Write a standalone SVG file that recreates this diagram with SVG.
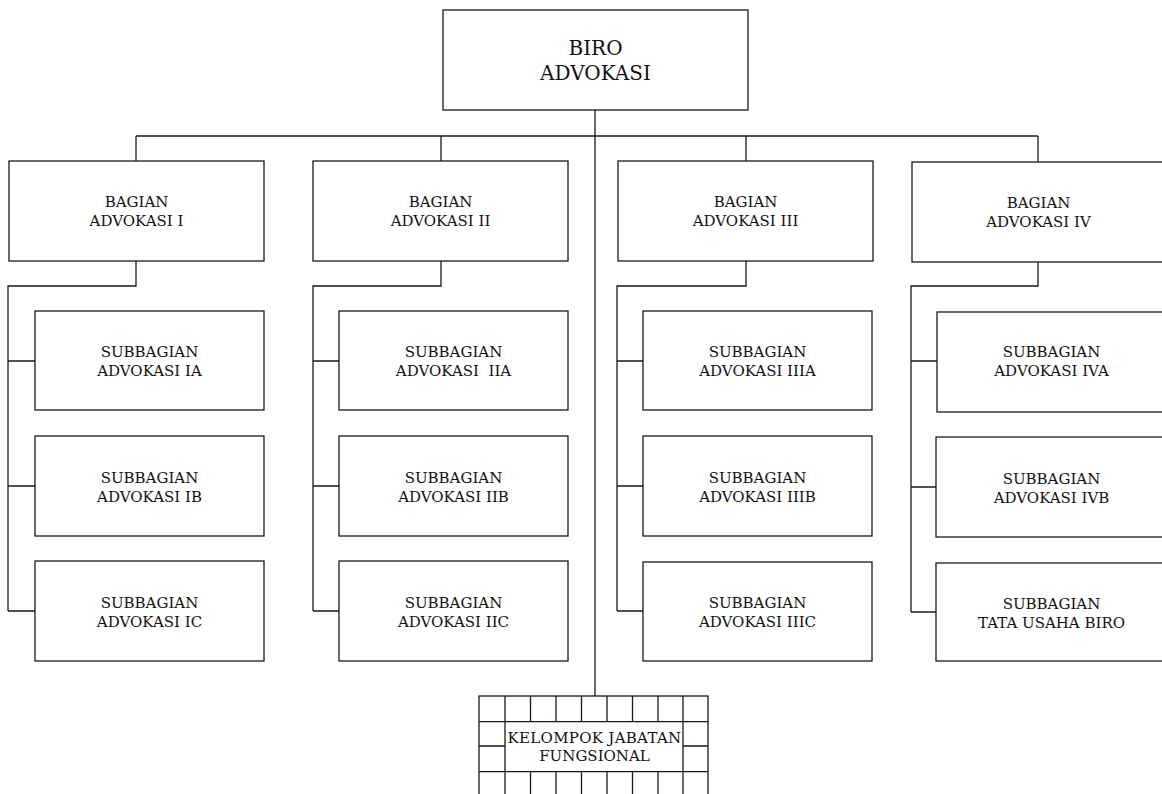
<svg xmlns="http://www.w3.org/2000/svg" width="1162" height="794" viewBox="0 0 1162 794">
<style>
.box{fill:#fff;stroke:#1a1a1a;stroke-width:1.3}
.ln{fill:none;stroke:#1a1a1a;stroke-width:1.3}
text{font-family:"DejaVu Serif","Liberation Serif",serif;fill:#111;text-anchor:middle;font-size:15px}
.big{font-size:20px}
</style>
<rect width="1162" height="794" fill="#fff"/>
<g id="connectors" class="ln">
<path d="M595 110V696"/>
<path d="M136 136H1038M136 136V161M441 136V161M746 136V161M1038 136V162"/>
<path d="M136 261V286H8V611M8 361H35M8 486H35M8 611H35"/>
<path d="M441 261V286H313V611M313 361H339M313 486H339M313 611H339"/>
<path d="M746 261V286H617V611M617 361H643M617 486H643M617 611H643"/>
<path d="M1038 262V286H911V612M911 361H937M911 487H936M911 612H936"/>
</g>
<g id="biro"><rect class="box" x="443" y="10" width="305" height="100"/><text class="big" x="595.5" y="55">BIRO</text><text class="big" x="595.5" y="80">ADVOKASI</text></g>
<g id="bagian1"><rect class="box" x="9" y="161" width="255" height="100"/><text x="136.5" y="207">BAGIAN</text><text x="136.5" y="226">ADVOKASI I</text></g>
<g id="bagian2"><rect class="box" x="313" y="161" width="255" height="100"/><text x="440.5" y="207">BAGIAN</text><text x="440.5" y="226">ADVOKASI II</text></g>
<g id="bagian3"><rect class="box" x="618" y="161" width="255" height="100"/><text x="745.5" y="207">BAGIAN</text><text x="745.5" y="226">ADVOKASI III</text></g>
<g id="bagian4"><rect class="box" x="912" y="162" width="256" height="100"/><text x="1038.5" y="208">BAGIAN</text><text x="1038.5" y="227">ADVOKASI IV</text></g>
<g id="sub1a"><rect class="box" x="35" y="311" width="229" height="99"/><text x="149.5" y="357">SUBBAGIAN</text><text x="149.5" y="376">ADVOKASI IA</text></g>
<g id="sub1b"><rect class="box" x="35" y="436" width="229" height="100"/><text x="149.5" y="483">SUBBAGIAN</text><text x="149.5" y="502">ADVOKASI IB</text></g>
<g id="sub1c"><rect class="box" x="35" y="561" width="229" height="100"/><text x="149.5" y="608">SUBBAGIAN</text><text x="149.5" y="627">ADVOKASI IC</text></g>
<g id="sub2a"><rect class="box" x="339" y="311" width="229" height="99"/><text x="453.5" y="357">SUBBAGIAN</text><text x="453.5" y="376" xml:space="preserve">ADVOKASI  IIA</text></g>
<g id="sub2b"><rect class="box" x="339" y="436" width="229" height="100"/><text x="453.5" y="483">SUBBAGIAN</text><text x="453.5" y="502">ADVOKASI IIB</text></g>
<g id="sub2c"><rect class="box" x="339" y="561" width="229" height="100"/><text x="453.5" y="608">SUBBAGIAN</text><text x="453.5" y="627">ADVOKASI IIC</text></g>
<g id="sub3a"><rect class="box" x="643" y="311" width="229" height="99"/><text x="757.5" y="357">SUBBAGIAN</text><text x="757.5" y="376">ADVOKASI IIIA</text></g>
<g id="sub3b"><rect class="box" x="643" y="436" width="229" height="100"/><text x="757.5" y="483">SUBBAGIAN</text><text x="757.5" y="502">ADVOKASI IIIB</text></g>
<g id="sub3c"><rect class="box" x="643" y="562" width="229" height="99"/><text x="757.5" y="608">SUBBAGIAN</text><text x="757.5" y="627">ADVOKASI IIIC</text></g>
<g id="sub4a"><rect class="box" x="937" y="312" width="230" height="100"/><text x="1051.5" y="357">SUBBAGIAN</text><text x="1051.5" y="376">ADVOKASI IVA</text></g>
<g id="sub4b"><rect class="box" x="936" y="437" width="231" height="100"/><text x="1051.5" y="484">SUBBAGIAN</text><text x="1051.5" y="503">ADVOKASI IVB</text></g>
<g id="sub4c"><rect class="box" x="936" y="563" width="231" height="98"/><text x="1051.5" y="609">SUBBAGIAN</text><text x="1051.5" y="628">TATA USAHA BIRO</text></g>
<g id="fungsional">
<rect class="box" x="479" y="696" width="229" height="110"/>
<path class="ln" d="M479 721.7H708M479 771.7H708M479 746H505M683 746H708M505 696V800M683 696V800"/>
<path class="ln" d="M530.5 696V721.7M556 696V721.7M581.5 696V721.7M607 696V721.7M632.5 696V721.7M658 696V721.7"/>
<path class="ln" d="M530.5 771.7V800M556 771.7V800M581.5 771.7V800M607 771.7V800M632.5 771.7V800M658 771.7V800"/>
<text x="594.5" y="743" style="letter-spacing:0.3px">KELOMPOK JABATAN</text>
<text x="594.5" y="761">FUNGSIONAL</text>
</g>
</svg>
